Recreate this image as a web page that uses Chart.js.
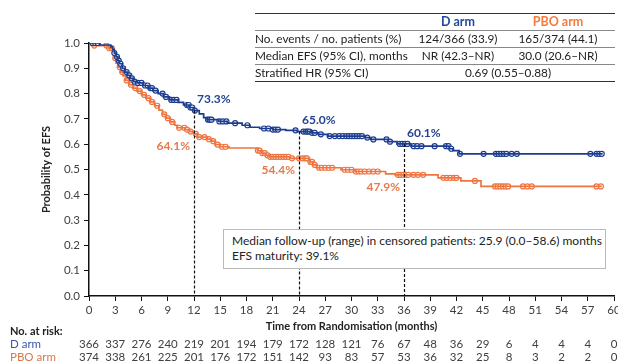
<!DOCTYPE html>
<html>
<head>
<meta charset="utf-8">
<script src="https://cdn.jsdelivr.net/npm/chart.js@4.4.0/dist/chart.umd.min.js"></script>
<style>
  html, body { margin: 0; padding: 0; background: #fff; overflow: hidden; }
  body { width: 618px; height: 362px; position: relative; font-family: Lato, sans-serif; }
  #efsChart { position: absolute; left: 0; top: 0; }
  .stats { position: absolute; left: 255px; top: 13px; width: 360px; border-collapse: collapse;
           font-size: 11.8px; color: #222; border-top: 1.5px solid #333; border-bottom: 1.5px solid #333; }
  .stats td { padding: 0; height: 16px; line-height: 16px; white-space: nowrap; border-bottom: 1px solid #888; }
  .stats tr:last-child td { border-bottom: none; }
  .stats td.c { text-align: center; }
  .stats .head td { font-weight: bold; font-size: 12.5px; }
  .darm { color: #23479e; }
  .pbo { color: #f47a3e; }
  .followup { position: absolute; left: 223px; top: 229px; width: 373px; height: 35px; padding-left: 8px;
              border: 1px solid #bbb; background: #fff; font-size: 12px; line-height: 15px; color: #222;
              box-sizing: content-box; padding-top: 3px; }
</style>
</head>
<body>
<canvas id="efsChart" width="640" height="362"></canvas>

<table class="stats">
  <colgroup><col style="width:153px"><col style="width:100px"><col style="width:107px"></colgroup>
  <tr class="head"><td></td><td class="c darm">D arm</td><td class="c pbo" style="padding-right:7px">PBO arm</td></tr>
  <tr><td>No. events / no. patients (%)</td><td class="c">124/366 (33.9)</td><td class="c" style="padding-right:7px">165/374 (44.1)</td></tr>
  <tr><td>Median EFS (95% CI), months</td><td class="c">NR (42.3–NR)</td><td class="c" style="padding-right:7px">30.0 (20.6–NR)</td></tr>
  <tr><td>Stratified HR (95% CI)</td><td class="c" colspan="2" style="padding-right:7px">0.69 (0.55–0.88)</td></tr>
</table>

<div class="followup">Median follow-up (range) in censored patients: 25.9 (0.0–58.6) months<br>EFS maturity: 39.1%</div>

<script>
// Kaplan-Meier steps: time (months) of each drop and survival after it
const dTime = [0, 1.2, 2.5, 2.7, 2.9, 3.1, 3.3, 3.5, 3.8, 4.1, 4.4, 4.7, 5.1, 5.5, 6.2, 6.8, 7.3, 7.9, 8.5, 9.2,
  10.2, 10.8, 11.5, 12.0, 12.6, 13.1, 13.5, 14.8, 15.8, 17.5, 18.4, 19.5, 21.0, 22.5, 23.8, 25.4, 26.2, 27.3,
  31.6, 32.2, 34.2, 35.2, 36.8, 41.2, 41.6, 42.3, 58.7];
const dSurv = [1.0, 0.992, 0.985, 0.975, 0.96, 0.945, 0.93, 0.918, 0.90, 0.885, 0.872, 0.86, 0.847, 0.842, 0.832,
  0.822, 0.812, 0.80, 0.787, 0.775, 0.765, 0.755, 0.745, 0.733, 0.72, 0.705, 0.697, 0.690, 0.683, 0.675, 0.667,
  0.662, 0.658, 0.655, 0.650, 0.645, 0.639, 0.632, 0.626, 0.619, 0.610, 0.601, 0.592, 0.582, 0.575, 0.562, 0.562];

const pboTime = [0, 0.4, 2.2, 2.7, 2.9, 3.1, 3.3, 3.6, 3.9, 4.2, 4.6, 5.0, 5.5, 6.0, 6.5, 7.0, 7.5, 8.0, 8.4, 8.8,
  9.3, 9.8, 10.1, 11.0, 11.5, 12.0, 12.4, 13.5, 14.0, 14.4, 15.0, 16.0, 19.3, 19.7, 20.2, 20.6, 23.0, 25.2, 25.6,
  26.0, 28.8, 30.4, 33.9, 35.0, 39.9, 42.5, 44.8, 58.6];
const pboSurv = [1.0, 0.99, 0.98, 0.96, 0.94, 0.92, 0.905, 0.885, 0.87, 0.852, 0.835, 0.822, 0.81, 0.795, 0.782,
  0.767, 0.752, 0.735, 0.718, 0.703, 0.688, 0.675, 0.665, 0.658, 0.650, 0.641, 0.628, 0.620, 0.612, 0.598, 0.590,
  0.585, 0.575, 0.565, 0.556, 0.550, 0.544, 0.530, 0.518, 0.507, 0.499, 0.492, 0.483, 0.479, 0.467, 0.455, 0.433,
  0.433];

// censoring times
const dCensor = [0.4, 0.7, 1.0, 2.9, 3.2, 3.4, 3.6, 3.9, 4.3, 4.6, 4.9, 5.2, 5.6, 6.0, 6.4, 6.7, 7.0, 7.2, 7.6,
  8.4, 8.8, 9.4, 9.7, 10.0, 11.2, 11.4, 11.6, 11.8, 12.1, 13.6, 13.8, 14.0, 14.9, 15.3, 15.7, 16.7, 18.1, 20.0,
  20.5, 21.0, 21.3, 21.6, 23.6, 24.5, 24.8, 25.0, 25.2, 25.5, 25.8, 26.5, 27.5, 28.1, 28.6, 29.0, 29.4, 29.7,
  30.0, 30.3, 30.6, 30.9, 31.2, 31.8, 32.5, 34.0, 34.4, 35.5, 35.8, 36.1, 36.4, 37.1, 37.5, 38.0, 39.5, 40.8,
  41.1, 41.4, 42.4, 45.1, 46.5, 46.8, 47.1, 47.4, 47.7, 48.3, 48.9, 57.3, 58.0, 58.3, 58.6];
const pboCensor = [0.3, 0.6, 2.0, 2.3, 2.6, 3.0, 3.5, 3.8, 4.3, 4.8, 5.3, 5.8, 6.3, 6.8, 7.2, 7.8, 8.6, 9.0, 9.5,
  10.3, 10.9, 11.2, 11.6, 12.2, 12.6, 13.2, 13.7, 14.2, 14.7, 15.2, 15.6, 19.3, 19.5, 19.8, 20.1, 20.4, 20.7,
  21.0, 21.3, 21.6, 21.9, 22.2, 22.5, 22.8, 23.2, 24.0, 24.4, 24.7, 24.9, 25.3, 25.5, 25.8, 26.3, 26.6, 27.0,
  27.4, 27.8, 29.2, 29.6, 30.0, 30.5, 30.8, 31.1, 31.5, 32.0, 32.5, 33.0, 35.3, 35.6, 35.9, 36.2, 36.5, 37.1,
  37.6, 38.2, 40.5, 40.9, 41.3, 41.7, 42.0, 44.1, 46.4, 46.7, 47.0, 47.3, 47.6, 47.9, 49.6, 50.1, 50.6, 58.0,
  58.5];

// landmark estimates
const landmarkMonths = [12, 24, 36];
const dLandmark = [0.733, 0.650, 0.601];
const pboLandmark = [0.641, 0.544, 0.479];

// number at risk
const riskMonths = [0, 3, 6, 9, 12, 15, 18, 21, 24, 27, 30, 33, 36, 39, 42, 45, 48, 51, 54, 57, 60];
const dAtRisk = [366, 337, 276, 240, 219, 201, 194, 179, 172, 128, 121, 76, 67, 48, 36, 29, 6, 4, 4, 4, 0];
const pboAtRisk = [374, 338, 261, 225, 201, 176, 172, 151, 142, 93, 83, 57, 53, 36, 32, 25, 8, 3, 2, 2, 0];

const BLUE = '#1c3d8f';
const ORANGE = '#ee7440';
const FONT = 'Lato, sans-serif';

function stepPoints(times, surv) {
    return times.map((t, i) => ({ x: t, y: surv[i] }));
}

function survAt(times, surv, t) {
    let s = surv[0];
    for (let i = 0; i < times.length; i++) {
        if (times[i] <= t) s = surv[i];
    }
    return s;
}

function censorPoints(censor, times, surv) {
    return censor.map(t => ({ x: t, y: survAt(times, surv, t) }));
}

// dashed landmark lines and percentage labels
const landmarkPlugin = {
    id: 'landmarks',
    afterDatasetsDraw(chart) {
        const ctx = chart.ctx;
        const xs = chart.scales.x, ys = chart.scales.y;
        ctx.save();
        ctx.strokeStyle = '#111';
        ctx.lineWidth = 1.2;
        ctx.setLineDash([3, 2]);
        landmarkMonths.forEach((m, i) => {
            const px = Math.round(xs.getPixelForValue(m)) + 0.5;
            ctx.beginPath();
            ctx.moveTo(px, ys.getPixelForValue(dLandmark[i]));
            ctx.lineTo(px, ys.getPixelForValue(0));
            ctx.stroke();
        });
        ctx.setLineDash([]);
        ctx.font = 'bold 12px ' + FONT;
        ctx.textBaseline = 'middle';
        landmarkMonths.forEach((m, i) => {
            const px = xs.getPixelForValue(m);
            ctx.fillStyle = '#26438f';
            ctx.textAlign = 'left';
            ctx.fillText((dLandmark[i] * 100).toFixed(1) + '%', px + 3, ys.getPixelForValue(dLandmark[i]) - 11);
            ctx.fillStyle = '#e8794a';
            ctx.textAlign = 'right';
            ctx.fillText((pboLandmark[i] * 100).toFixed(1) + '%', px - 4, ys.getPixelForValue(pboLandmark[i]) + 12);
        });
        ctx.restore();
    }
};

// number-at-risk table under the x axis
const atRiskPlugin = {
    id: 'atRisk',
    afterDraw(chart) {
        const ctx = chart.ctx;
        const xs = chart.scales.x;
        ctx.save();
        ctx.textBaseline = 'middle';
        ctx.textAlign = 'left';
        ctx.font = 'bold 11px ' + FONT;
        ctx.fillStyle = '#222';
        ctx.fillText('No. at risk:', 10, 331);
        ctx.font = '11.5px ' + FONT;
        ctx.fillStyle = '#3b57a7';
        ctx.fillText('D arm', 10, 344);
        ctx.fillStyle = '#d57a4c';
        ctx.fillText('PBO arm', 10, 357);
        ctx.fillStyle = '#404040';
        ctx.textAlign = 'center';
        riskMonths.forEach((m, i) => {
            const px = xs.getPixelForValue(m);
            ctx.fillText(String(dAtRisk[i]), px, 344);
            ctx.fillText(String(pboAtRisk[i]), px, 357);
        });
        ctx.restore();
    }
};

const ctx = document.getElementById('efsChart').getContext('2d');
new Chart(ctx, {
    type: 'line',
    data: {
        datasets: [
            {
                label: 'D arm',
                data: stepPoints(dTime, dSurv),
                stepped: 'before',
                borderColor: BLUE,
                borderWidth: 1.7,
                pointRadius: 0,
                fill: false
            },
            {
                label: 'D arm censored',
                data: censorPoints(dCensor, dTime, dSurv),
                showLine: false,
                pointStyle: 'circle',
                pointRadius: 2.5,
                pointBorderWidth: 1.2,
                pointBorderColor: BLUE,
                pointBackgroundColor: '#ffffff'
            },
            {
                label: 'PBO arm',
                data: stepPoints(pboTime, pboSurv),
                stepped: 'before',
                borderColor: ORANGE,
                borderWidth: 1.7,
                pointRadius: 0,
                fill: false
            },
            {
                label: 'PBO arm censored',
                data: censorPoints(pboCensor, pboTime, pboSurv),
                showLine: false,
                pointStyle: 'circle',
                pointRadius: 2.5,
                pointBorderWidth: 1.2,
                pointBorderColor: ORANGE,
                pointBackgroundColor: '#ffffff'
            }
        ]
    },
    options: {
        responsive: false,
        animation: false,
        layout: { padding: { top: 43, right: 26, bottom: 29, left: 0 } },
        plugins: {
            legend: { display: false },
            tooltip: { enabled: false }
        },
        scales: {
            x: {
                type: 'linear',
                min: 0,
                max: 60,
                ticks: {
                    stepSize: 3,
                    autoSkip: false,
                    maxRotation: 0,
                    padding: 2,
                    color: '#404040',
                    font: { family: FONT, size: 11.5 }
                },
                grid: { drawOnChartArea: false, tickLength: 5, color: '#111' },
                border: { color: '#111', width: 1.5 },
                title: {
                    display: true,
                    text: 'Time from Randomisation (months)',
                    color: '#222',
                    padding: 0,
                    font: { family: FONT, size: 11, weight: 'bold' }
                },
                afterFit: scale => { scale.height = 37; }
            },
            y: {
                min: 0,
                max: 1,
                ticks: {
                    stepSize: 0.1,
                    padding: 4,
                    color: '#404040',
                    font: { family: FONT, size: 11.5 },
                    callback: v => v.toFixed(1)
                },
                grid: { drawOnChartArea: false, tickLength: 5, color: '#111' },
                border: { color: '#111', width: 1.5 },
                title: {
                    display: true,
                    text: 'Probability of EFS',
                    color: '#222',
                    padding: { top: 40, bottom: 0 },
                    font: { family: FONT, size: 11, weight: 'bold' }
                },
                afterFit: scale => { scale.width = 89; }
            }
        }
    },
    plugins: [landmarkPlugin, atRiskPlugin]
});
</script>
</body>
</html>
